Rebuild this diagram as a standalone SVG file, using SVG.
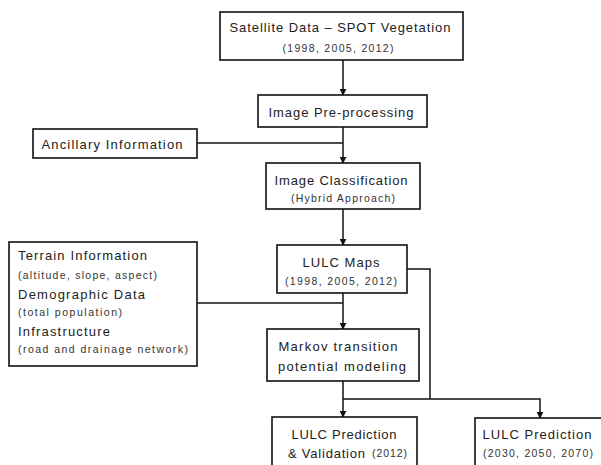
<svg xmlns="http://www.w3.org/2000/svg" width="601" height="465" viewBox="0 0 601 465">
<defs>
<marker id="ah" viewBox="0 0 10 10" refX="9" refY="5" markerWidth="7" markerHeight="7" markerUnits="userSpaceOnUse" orient="auto">
<path d="M0,0 L10,5 L0,10 z" fill="#111"/>
</marker>
<style>
.box{fill:#fff;stroke:#111;stroke-width:1.6}
.con{fill:none;stroke:#111;stroke-width:1.5}
.arr{marker-end:url(#ah)}
text{font-family:"Liberation Sans","DejaVu Sans",sans-serif;fill:#222;dominant-baseline:central}
.t{font-size:13px;text-anchor:middle}
.s{font-size:10.5px;text-anchor:middle;fill:#333}
.l{font-size:13px}
.ls{font-size:10.5px;fill:#333}
</style>
</defs>
<rect width="601" height="465" fill="#fff"/>
<g id="connectors">
<path class="con arr" d="M343,60 V95"/>
<path class="con arr" d="M343,127 V163"/>
<path class="con" d="M197,143 H343"/>
<path class="con arr" d="M343,209 V245"/>
<path class="con arr" d="M343,293 V329"/>
<path class="con" d="M197,303 H343"/>
<path class="con" d="M407,269 H430 V399"/>
<path class="con arr" d="M343,381 V417"/>
<path class="con arr" d="M343,399 H540 V418"/>
</g>
<g id="satellite">
<rect class="box" x="220" y="12" width="243" height="48"/>
<text class="t" x="340" y="27" textLength="221">Satellite Data – SPOT Vegetation</text>
<text class="s" x="338" y="48" textLength="111">(1998, 2005, 2012)</text>
</g>
<g id="preprocessing">
<rect class="box" x="258" y="95" width="169" height="32"/>
<text class="t" x="341" y="112" textLength="145">Image Pre-processing</text>
</g>
<g id="ancillary">
<rect class="box" x="33" y="129" width="164" height="29"/>
<text class="t" x="112" y="144" textLength="141">Ancillary Information</text>
</g>
<g id="classification">
<rect class="box" x="266" y="163" width="154" height="46"/>
<text class="t" x="341" y="180" textLength="133">Image Classification</text>
<text class="s" x="343" y="198" textLength="104">(Hybrid Approach)</text>
</g>
<g id="ancillary-data">
<rect class="box" x="9" y="242" width="188" height="124"/>
<text class="l" x="18" y="255" textLength="129">Terrain Information</text>
<text class="ls" x="18" y="275" textLength="139">(altitude, slope, aspect)</text>
<text class="l" x="18" y="294" textLength="127">Demographic Data</text>
<text class="ls" x="18" y="312" textLength="104">(total population)</text>
<text class="l" x="18" y="331" textLength="92">Infrastructure</text>
<text class="ls" x="18" y="349" textLength="170">(road and drainage network)</text>
</g>
<g id="lulc-maps">
<rect class="box" x="277" y="245" width="130" height="48"/>
<text class="t" x="341" y="262" textLength="77">LULC Maps</text>
<text class="s" x="341" y="281" textLength="112">(1998, 2005, 2012)</text>
</g>
<g id="markov">
<rect class="box" x="267" y="329" width="152" height="52"/>
<text class="t" x="338" y="346" textLength="119">Markov transition</text>
<text class="t" x="342" y="366" textLength="128">potential modeling</text>
</g>
<g id="prediction-validation">
<rect class="box" x="272" y="417" width="145" height="60"/>
<text class="t" x="344" y="434" textLength="105">LULC Prediction</text>
<text class="l" x="288" y="453" textLength="77">&amp; Validation</text>
<text class="ls" x="372" y="453" textLength="35">(2012)</text>
</g>
<g id="prediction-future">
<rect class="box" x="475" y="418" width="140" height="60"/>
<text class="t" x="537" y="434" textLength="109">LULC Prediction</text>
<text class="s" x="538" y="453" textLength="110">(2030, 2050, 2070)</text>
</g>
</svg>
